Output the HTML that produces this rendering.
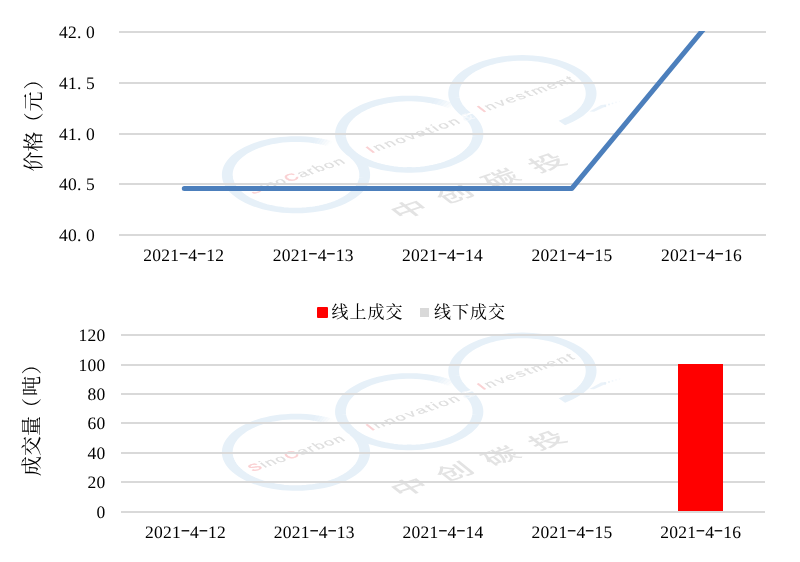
<!DOCTYPE html>
<html lang="zh-CN"><head><meta charset="utf-8"><title>价格与成交量</title>
<style>
html,body{margin:0;padding:0;background:#fff;}
body{width:800px;height:562px;overflow:hidden;}
svg{display:block;}
text{font-family:"Liberation Serif","Noto Serif CJK SC",serif;font-size:18px;fill:#000;}
.n{font-family:"Liberation Serif","Noto Serif CJK SC",serif;font-size:17.5px;text-rendering:geometricPrecision;}
.h{font-size:18px;}
.c{font-family:"Liberation Serif","Noto Serif CJK SC",serif;font-size:17px;}
.t{font-family:"Liberation Serif","Noto Serif CJK SC",serif;font-size:20px;text-spacing-trim:space-all;}
.wm{font-family:"Liberation Sans",sans-serif;font-size:18.5px;fill:#dedede;stroke:#dedede;stroke-width:0.25px;}
.wa{fill:#f6f9fc;stroke:#f6f9fc;}
.wr{fill:#fad0d2;stroke:#fad0d2;stroke-width:0.7px;}
.wmc{font-family:"Liberation Sans","Noto Sans CJK SC",sans-serif;font-size:33px;font-weight:500;fill:#e3e3e3;}
</style></head><body>
<svg width="800" height="562" viewBox="0 0 800 562">
<rect width="800" height="562" fill="#fff"/>
<g transform="translate(0 0.0)">
<g transform="translate(296.0 174.8) scale(1 0.52)" fill="none" stroke="#e6f0f8" stroke-width="10.8">
<path d="M18.95 -66.09 L14.26 -67.25 L9.51 -68.09 L4.70 -68.59 L-0.12 -68.75 L-4.95 -68.57 L-9.75 -68.06 L-14.50 -67.20 L-19.18 -66.02 L-23.77 -64.51 L-28.24 -62.68 L-32.57 -60.55 L-36.74 -58.11 L-40.73 -55.39 L-44.52 -52.39 L-48.08 -49.14 L-51.42 -45.64 L-54.49 -41.92 L-57.30 -37.99 L-59.83 -33.87 L-62.06 -29.59 L-63.98 -25.16 L-65.59 -20.61 L-66.87 -15.95 L-67.83 -11.22 L-68.45 -6.43 L-68.73 -1.61 L-68.67 3.22 L-68.28 8.03 L-67.55 12.80 L-66.48 17.51 L-65.09 22.14 L-63.37 26.65 L-61.35 31.04 L-59.02 35.27 L-56.39 39.32 L-53.50 43.18 L-50.33 46.83 L-46.92 50.25 L-43.28 53.42 L-39.42 56.33 L-35.37 58.95 L-31.14 61.29 L-26.76 63.33 L-22.25 65.05 L-17.63 66.45 L-12.92 67.52 L-8.15 68.26 L-3.34 68.67 L1.49 68.73 L6.31 68.46 L11.10 67.85 L15.84 66.90 L20.49 65.62 L25.05 64.02 L29.48 62.11 L33.77 59.89 L37.89 57.37 L41.82 54.57 L45.55 51.50 L49.05 48.17 L52.31 44.61 L55.31 40.83 L58.04 36.84 L60.49 32.68 L62.63 28.35 L64.47 23.88 L65.99 19.30 L67.18 14.62 L68.04 9.87 L68.56 5.07 L68.75 0.24 L68.60 -4.58 L68.11 -9.39 L67.28 -14.15 L66.12 -18.83 L64.63 -23.43 L62.83 -27.91 L60.72 -32.25 L58.30 -36.43"/>
<path d="M34.38 -59.54 L32.84 -60.40 L31.28 -61.22" stroke-opacity="0.08"/>
<path d="M31.92 -60.89 L30.35 -61.69 L28.76 -62.44" stroke-opacity="0.25"/>
<path d="M29.42 -62.14 L27.82 -62.87 L26.20 -63.56" stroke-opacity="0.42"/>
<path d="M26.86 -63.28 L25.23 -63.95 L23.59 -64.58" stroke-opacity="0.58"/>
<path d="M24.26 -64.33 L22.61 -64.93 L20.94 -65.48" stroke-opacity="0.75"/>
<path d="M21.62 -65.26 L19.95 -65.79 L18.26 -66.28" stroke-opacity="0.92"/>
</g>
<g transform="translate(409.2 134.2) scale(1 0.52)" fill="none" stroke="#e6f0f8" stroke-width="10.8">
<path d="M25.75 -63.74 L21.24 -65.39 L16.63 -66.71 L11.94 -67.71 L7.19 -68.37 L2.40 -68.71 L-2.40 -68.71 L-7.19 -68.37 L-11.94 -67.71 L-16.63 -66.71 L-21.24 -65.39 L-25.75 -63.74 L-30.14 -61.79 L-34.37 -59.54 L-38.44 -57.00 L-42.33 -54.18 L-46.00 -51.09 L-49.45 -47.76 L-52.67 -44.19 L-55.62 -40.41 L-58.30 -36.43 L-60.70 -32.28 L-62.81 -27.96 L-64.60 -23.51 L-66.09 -18.95 L-67.25 -14.29 L-68.08 -9.57 L-68.58 -4.80 L-68.75 -0.00 L-68.58 4.80 L-68.08 9.57 L-67.25 14.29 L-66.09 18.95 L-64.60 23.51 L-62.81 27.96 L-60.70 32.28 L-58.30 36.43 L-55.62 40.41 L-52.67 44.19 L-49.45 47.76 L-46.00 51.09 L-42.33 54.18 L-38.44 57.00 L-34.38 59.54 L-30.14 61.79 L-25.75 63.74 L-21.24 65.39 L-16.63 66.71 L-11.94 67.71 L-7.19 68.37 L-2.40 68.71 L2.40 68.71 L7.19 68.37 L11.94 67.71 L16.63 66.71 L21.24 65.39 L25.75 63.74 L30.14 61.79 L34.38 59.54 L38.44 57.00 L42.33 54.18 L46.00 51.09 L49.45 47.76 L52.67 44.19 L55.62 40.41 L58.30 36.43 L60.70 32.28 L62.81 27.96 L64.60 23.51 L66.09 18.95 L67.25 14.29 L68.08 9.57 L68.58 4.80 L68.75 0.00 L68.58 -4.80 L68.08 -9.57 L67.25 -14.29 L66.09 -18.95 L64.60 -23.51 L62.81 -27.96 L60.70 -32.28 L58.30 -36.43"/>
<path d="M44.19 -52.67 L42.52 -54.03 L40.80 -55.34" stroke-opacity="0.08"/>
<path d="M41.37 -54.91 L39.63 -56.18 L37.85 -57.40" stroke-opacity="0.25"/>
<path d="M38.44 -57.00 L36.64 -58.18 L34.79 -59.30" stroke-opacity="0.42"/>
<path d="M35.41 -58.93 L33.54 -60.01 L31.64 -61.04" stroke-opacity="0.58"/>
<path d="M32.28 -60.70 L30.35 -61.69 L28.40 -62.61" stroke-opacity="0.75"/>
<path d="M29.06 -62.31 L27.08 -63.19 L25.09 -64.01" stroke-opacity="0.92"/>
</g>
<g transform="translate(522.4 93.6) scale(1 0.52)" fill="none" stroke="#e6f0f8" stroke-width="10.8">
<path d="M39.43 56.32 L43.29 53.41 L46.94 50.23 L50.35 46.81 L53.52 43.15 L56.42 39.29 L59.04 35.22 L61.37 30.99 L63.40 26.60 L65.11 22.08 L66.50 17.45 L67.56 12.73 L68.29 7.95 L68.68 3.13 L68.73 -1.70 L68.44 -6.53 L67.81 -11.32 L66.85 -16.06 L65.55 -20.72 L63.94 -25.27 L62.00 -29.70 L59.76 -33.99 L57.23 -38.10 L54.41 -42.03 L51.32 -45.75 L47.98 -49.24 L44.40 -52.49 L40.60 -55.48 L36.60 -58.20 L32.42 -60.63 L28.08 -62.76 L23.60 -64.57 L19.00 -66.07 L14.31 -67.24 L9.55 -68.08 L4.74 -68.59 L-0.09 -68.75 L-4.92 -68.57 L-9.73 -68.06 L-14.49 -67.21 L-19.17 -66.02 L-23.77 -64.51 L-28.24 -62.68 L-32.58 -60.54 L-36.75 -58.10 L-40.74 -55.38 L-44.53 -52.38 L-48.10 -49.12 L-51.44 -45.62 L-54.52 -41.89 L-57.32 -37.95 L-59.85 -33.83 L-62.08 -29.54 L-64.00 -25.11 L-65.61 -20.55 L-66.89 -15.88 L-67.84 -11.14 L-68.46 -6.35 L-68.73 -1.52 L-68.67 3.31 L-68.27 8.13 L-67.53 12.91 L-66.45 17.62 L-65.05 22.25 L-63.33 26.76 L-61.29 31.15 L-58.95 35.38 L-56.32 39.43"/>
</g>
<path d="M589.5 111.6 L601 105 L606.5 104.6 L604 107.2 L594 111.8Z" fill="#e6f0f8" fill-opacity="0.85"/>
<g fill="#e6f0f8"><circle cx="605" cy="106" r="1.3"/><circle cx="609" cy="104.6" r="1" fill-opacity="0.8"/><circle cx="612.5" cy="103.4" r="0.9" fill-opacity="0.6"/><circle cx="616" cy="102.4" r="0.8" fill-opacity="0.45"/><circle cx="619.5" cy="101.6" r="0.7" fill-opacity="0.3"/></g>
<text class="wm" transform="translate(254.4 189.5) scale(1 0.52) rotate(-33)" x="-6.2" y="6.8" style="letter-spacing:1.50px;word-spacing:0.0px"><tspan class="wr">S</tspan>ino<tspan class="wr">C</tspan>arbon</text>
<text class="wm" transform="translate(370.0 149.5) scale(1 0.52) rotate(-33)" x="-2.6" y="6.8" style="letter-spacing:2.40px;word-spacing:-5.0px"><tspan class="wr">I</tspan>nnovation <tspan class="wa">&amp;</tspan></text>
<text class="wm" transform="translate(481.2 108.8) scale(1 0.52) rotate(-33)" x="-2.6" y="6.8" style="letter-spacing:2.26px;word-spacing:0.0px"><tspan class="wr">I</tspan>nvestment</text>
<text class="wmc" transform="translate(476.8 185.6) scale(1 0.52) rotate(-33) scale(1.12 1)" x="-72.8 -24.8 24.6 74.1" y="13.5" text-anchor="middle">中创碳投</text>
</g>
<line x1="119" x2="766" y1="32.00" y2="32.00" stroke="#d9d9d9" stroke-width="2"/>
<line x1="119" x2="766" y1="83.00" y2="83.00" stroke="#d9d9d9" stroke-width="2"/>
<line x1="119" x2="766" y1="134.00" y2="134.00" stroke="#d9d9d9" stroke-width="2"/>
<line x1="119" x2="766" y1="184.00" y2="184.00" stroke="#d9d9d9" stroke-width="2"/>
<line x1="119" x2="766" y1="235.00" y2="235.00" stroke="#d9d9d9" stroke-width="2"/>
<text class="n" x="59.00 68.00 77.00 86.00" y="38.30">42.0</text>
<text class="n" x="59.00 68.00 77.00 86.00" y="89.30">41.5</text>
<text class="n" x="59.00 68.00 77.00 86.00" y="140.30">41.0</text>
<text class="n" x="59.00 68.00 77.00 86.00" y="190.30">40.5</text>
<text class="n" x="59.00 68.00 77.00 86.00" y="241.30">40.0</text>
<text class="n" x="143.30 152.30 161.30 170.30 179.30 188.30 197.30 206.30 215.30" y="261.00">2021<tspan class="h" x="178.70" dy="-3.1" textLength="9.8" lengthAdjust="spacingAndGlyphs">-</tspan><tspan dy="3.1">4</tspan><tspan class="h" x="196.70" dy="-3.1" textLength="9.8" lengthAdjust="spacingAndGlyphs">-</tspan><tspan dy="3.1">12</tspan></text>
<text class="n" x="272.70 281.70 290.70 299.70 308.70 317.70 326.70 335.70 344.70" y="261.00">2021<tspan class="h" x="308.10" dy="-3.1" textLength="9.8" lengthAdjust="spacingAndGlyphs">-</tspan><tspan dy="3.1">4</tspan><tspan class="h" x="326.10" dy="-3.1" textLength="9.8" lengthAdjust="spacingAndGlyphs">-</tspan><tspan dy="3.1">13</tspan></text>
<text class="n" x="402.10 411.10 420.10 429.10 438.10 447.10 456.10 465.10 474.10" y="261.00">2021<tspan class="h" x="437.50" dy="-3.1" textLength="9.8" lengthAdjust="spacingAndGlyphs">-</tspan><tspan dy="3.1">4</tspan><tspan class="h" x="455.50" dy="-3.1" textLength="9.8" lengthAdjust="spacingAndGlyphs">-</tspan><tspan dy="3.1">14</tspan></text>
<text class="n" x="531.50 540.50 549.50 558.50 567.50 576.50 585.50 594.50 603.50" y="261.00">2021<tspan class="h" x="566.90" dy="-3.1" textLength="9.8" lengthAdjust="spacingAndGlyphs">-</tspan><tspan dy="3.1">4</tspan><tspan class="h" x="584.90" dy="-3.1" textLength="9.8" lengthAdjust="spacingAndGlyphs">-</tspan><tspan dy="3.1">15</tspan></text>
<text class="n" x="660.90 669.90 678.90 687.90 696.90 705.90 714.90 723.90 732.90" y="261.00">2021<tspan class="h" x="696.30" dy="-3.1" textLength="9.8" lengthAdjust="spacingAndGlyphs">-</tspan><tspan dy="3.1">4</tspan><tspan class="h" x="714.30" dy="-3.1" textLength="9.8" lengthAdjust="spacingAndGlyphs">-</tspan><tspan dy="3.1">16</tspan></text>
<clipPath id="cp"><rect x="119" y="31" width="647" height="205"/></clipPath>
<polyline clip-path="url(#cp)" fill="none" stroke="#4c7fbc" stroke-width="5" stroke-linecap="round" stroke-linejoin="round" points="184.3,188.4 313.1,188.4 442.5,188.4 571.9,188.4 701.3,32 709.6,22"/>
<text class="t" transform="translate(41 171.5) rotate(-90)" x="0 20 39 60 82" y="0">价格（元）</text>
<g transform="translate(0 277.5)">
<g transform="translate(296.0 174.8) scale(1 0.52)" fill="none" stroke="#e6f0f8" stroke-width="10.8">
<path d="M18.95 -66.09 L14.26 -67.25 L9.51 -68.09 L4.70 -68.59 L-0.12 -68.75 L-4.95 -68.57 L-9.75 -68.06 L-14.50 -67.20 L-19.18 -66.02 L-23.77 -64.51 L-28.24 -62.68 L-32.57 -60.55 L-36.74 -58.11 L-40.73 -55.39 L-44.52 -52.39 L-48.08 -49.14 L-51.42 -45.64 L-54.49 -41.92 L-57.30 -37.99 L-59.83 -33.87 L-62.06 -29.59 L-63.98 -25.16 L-65.59 -20.61 L-66.87 -15.95 L-67.83 -11.22 L-68.45 -6.43 L-68.73 -1.61 L-68.67 3.22 L-68.28 8.03 L-67.55 12.80 L-66.48 17.51 L-65.09 22.14 L-63.37 26.65 L-61.35 31.04 L-59.02 35.27 L-56.39 39.32 L-53.50 43.18 L-50.33 46.83 L-46.92 50.25 L-43.28 53.42 L-39.42 56.33 L-35.37 58.95 L-31.14 61.29 L-26.76 63.33 L-22.25 65.05 L-17.63 66.45 L-12.92 67.52 L-8.15 68.26 L-3.34 68.67 L1.49 68.73 L6.31 68.46 L11.10 67.85 L15.84 66.90 L20.49 65.62 L25.05 64.02 L29.48 62.11 L33.77 59.89 L37.89 57.37 L41.82 54.57 L45.55 51.50 L49.05 48.17 L52.31 44.61 L55.31 40.83 L58.04 36.84 L60.49 32.68 L62.63 28.35 L64.47 23.88 L65.99 19.30 L67.18 14.62 L68.04 9.87 L68.56 5.07 L68.75 0.24 L68.60 -4.58 L68.11 -9.39 L67.28 -14.15 L66.12 -18.83 L64.63 -23.43 L62.83 -27.91 L60.72 -32.25 L58.30 -36.43"/>
<path d="M34.38 -59.54 L32.84 -60.40 L31.28 -61.22" stroke-opacity="0.08"/>
<path d="M31.92 -60.89 L30.35 -61.69 L28.76 -62.44" stroke-opacity="0.25"/>
<path d="M29.42 -62.14 L27.82 -62.87 L26.20 -63.56" stroke-opacity="0.42"/>
<path d="M26.86 -63.28 L25.23 -63.95 L23.59 -64.58" stroke-opacity="0.58"/>
<path d="M24.26 -64.33 L22.61 -64.93 L20.94 -65.48" stroke-opacity="0.75"/>
<path d="M21.62 -65.26 L19.95 -65.79 L18.26 -66.28" stroke-opacity="0.92"/>
</g>
<g transform="translate(409.2 134.2) scale(1 0.52)" fill="none" stroke="#e6f0f8" stroke-width="10.8">
<path d="M25.75 -63.74 L21.24 -65.39 L16.63 -66.71 L11.94 -67.71 L7.19 -68.37 L2.40 -68.71 L-2.40 -68.71 L-7.19 -68.37 L-11.94 -67.71 L-16.63 -66.71 L-21.24 -65.39 L-25.75 -63.74 L-30.14 -61.79 L-34.37 -59.54 L-38.44 -57.00 L-42.33 -54.18 L-46.00 -51.09 L-49.45 -47.76 L-52.67 -44.19 L-55.62 -40.41 L-58.30 -36.43 L-60.70 -32.28 L-62.81 -27.96 L-64.60 -23.51 L-66.09 -18.95 L-67.25 -14.29 L-68.08 -9.57 L-68.58 -4.80 L-68.75 -0.00 L-68.58 4.80 L-68.08 9.57 L-67.25 14.29 L-66.09 18.95 L-64.60 23.51 L-62.81 27.96 L-60.70 32.28 L-58.30 36.43 L-55.62 40.41 L-52.67 44.19 L-49.45 47.76 L-46.00 51.09 L-42.33 54.18 L-38.44 57.00 L-34.38 59.54 L-30.14 61.79 L-25.75 63.74 L-21.24 65.39 L-16.63 66.71 L-11.94 67.71 L-7.19 68.37 L-2.40 68.71 L2.40 68.71 L7.19 68.37 L11.94 67.71 L16.63 66.71 L21.24 65.39 L25.75 63.74 L30.14 61.79 L34.38 59.54 L38.44 57.00 L42.33 54.18 L46.00 51.09 L49.45 47.76 L52.67 44.19 L55.62 40.41 L58.30 36.43 L60.70 32.28 L62.81 27.96 L64.60 23.51 L66.09 18.95 L67.25 14.29 L68.08 9.57 L68.58 4.80 L68.75 0.00 L68.58 -4.80 L68.08 -9.57 L67.25 -14.29 L66.09 -18.95 L64.60 -23.51 L62.81 -27.96 L60.70 -32.28 L58.30 -36.43"/>
<path d="M44.19 -52.67 L42.52 -54.03 L40.80 -55.34" stroke-opacity="0.08"/>
<path d="M41.37 -54.91 L39.63 -56.18 L37.85 -57.40" stroke-opacity="0.25"/>
<path d="M38.44 -57.00 L36.64 -58.18 L34.79 -59.30" stroke-opacity="0.42"/>
<path d="M35.41 -58.93 L33.54 -60.01 L31.64 -61.04" stroke-opacity="0.58"/>
<path d="M32.28 -60.70 L30.35 -61.69 L28.40 -62.61" stroke-opacity="0.75"/>
<path d="M29.06 -62.31 L27.08 -63.19 L25.09 -64.01" stroke-opacity="0.92"/>
</g>
<g transform="translate(522.4 93.6) scale(1 0.52)" fill="none" stroke="#e6f0f8" stroke-width="10.8">
<path d="M39.43 56.32 L43.29 53.41 L46.94 50.23 L50.35 46.81 L53.52 43.15 L56.42 39.29 L59.04 35.22 L61.37 30.99 L63.40 26.60 L65.11 22.08 L66.50 17.45 L67.56 12.73 L68.29 7.95 L68.68 3.13 L68.73 -1.70 L68.44 -6.53 L67.81 -11.32 L66.85 -16.06 L65.55 -20.72 L63.94 -25.27 L62.00 -29.70 L59.76 -33.99 L57.23 -38.10 L54.41 -42.03 L51.32 -45.75 L47.98 -49.24 L44.40 -52.49 L40.60 -55.48 L36.60 -58.20 L32.42 -60.63 L28.08 -62.76 L23.60 -64.57 L19.00 -66.07 L14.31 -67.24 L9.55 -68.08 L4.74 -68.59 L-0.09 -68.75 L-4.92 -68.57 L-9.73 -68.06 L-14.49 -67.21 L-19.17 -66.02 L-23.77 -64.51 L-28.24 -62.68 L-32.58 -60.54 L-36.75 -58.10 L-40.74 -55.38 L-44.53 -52.38 L-48.10 -49.12 L-51.44 -45.62 L-54.52 -41.89 L-57.32 -37.95 L-59.85 -33.83 L-62.08 -29.54 L-64.00 -25.11 L-65.61 -20.55 L-66.89 -15.88 L-67.84 -11.14 L-68.46 -6.35 L-68.73 -1.52 L-68.67 3.31 L-68.27 8.13 L-67.53 12.91 L-66.45 17.62 L-65.05 22.25 L-63.33 26.76 L-61.29 31.15 L-58.95 35.38 L-56.32 39.43"/>
</g>
<path d="M589.5 111.6 L601 105 L606.5 104.6 L604 107.2 L594 111.8Z" fill="#e6f0f8" fill-opacity="0.85"/>
<g fill="#e6f0f8"><circle cx="605" cy="106" r="1.3"/><circle cx="609" cy="104.6" r="1" fill-opacity="0.8"/><circle cx="612.5" cy="103.4" r="0.9" fill-opacity="0.6"/><circle cx="616" cy="102.4" r="0.8" fill-opacity="0.45"/><circle cx="619.5" cy="101.6" r="0.7" fill-opacity="0.3"/></g>
<text class="wm" transform="translate(254.4 189.5) scale(1 0.52) rotate(-33)" x="-6.2" y="6.8" style="letter-spacing:1.50px;word-spacing:0.0px"><tspan class="wr">S</tspan>ino<tspan class="wr">C</tspan>arbon</text>
<text class="wm" transform="translate(370.0 149.5) scale(1 0.52) rotate(-33)" x="-2.6" y="6.8" style="letter-spacing:2.40px;word-spacing:-5.0px"><tspan class="wr">I</tspan>nnovation <tspan class="wa">&amp;</tspan></text>
<text class="wm" transform="translate(481.2 108.8) scale(1 0.52) rotate(-33)" x="-2.6" y="6.8" style="letter-spacing:2.26px;word-spacing:0.0px"><tspan class="wr">I</tspan>nvestment</text>
<text class="wmc" transform="translate(476.8 185.6) scale(1 0.52) rotate(-33) scale(1.12 1)" x="-72.8 -24.8 24.6 74.1" y="13.5" text-anchor="middle">中创碳投</text>
</g>
<line x1="121" x2="765" y1="335.00" y2="335.00" stroke="#d9d9d9" stroke-width="2"/>
<line x1="121" x2="765" y1="365.00" y2="365.00" stroke="#d9d9d9" stroke-width="2"/>
<line x1="121" x2="765" y1="394.00" y2="394.00" stroke="#d9d9d9" stroke-width="2"/>
<line x1="121" x2="765" y1="423.00" y2="423.00" stroke="#d9d9d9" stroke-width="2"/>
<line x1="121" x2="765" y1="453.00" y2="453.00" stroke="#d9d9d9" stroke-width="2"/>
<line x1="121" x2="765" y1="482.00" y2="482.00" stroke="#d9d9d9" stroke-width="2"/>
<line x1="121" x2="765" y1="512.00" y2="512.00" stroke="#d9d9d9" stroke-width="2"/>
<text class="n" x="78.50 87.50 96.50" y="341.30">120</text>
<text class="n" x="78.50 87.50 96.50" y="371.30">100</text>
<text class="n" x="87.50 96.50" y="400.30">80</text>
<text class="n" x="87.50 96.50" y="429.30">60</text>
<text class="n" x="87.50 96.50" y="459.30">40</text>
<text class="n" x="87.50 96.50" y="488.30">20</text>
<text class="n" x="96.50" y="518.30">0</text>
<text class="n" x="145.00 154.00 163.00 172.00 181.00 190.00 199.00 208.00 217.00" y="538.00">2021<tspan class="h" x="180.40" dy="-3.1" textLength="9.8" lengthAdjust="spacingAndGlyphs">-</tspan><tspan dy="3.1">4</tspan><tspan class="h" x="198.40" dy="-3.1" textLength="9.8" lengthAdjust="spacingAndGlyphs">-</tspan><tspan dy="3.1">12</tspan></text>
<text class="n" x="273.80 282.80 291.80 300.80 309.80 318.80 327.80 336.80 345.80" y="538.00">2021<tspan class="h" x="309.20" dy="-3.1" textLength="9.8" lengthAdjust="spacingAndGlyphs">-</tspan><tspan dy="3.1">4</tspan><tspan class="h" x="327.20" dy="-3.1" textLength="9.8" lengthAdjust="spacingAndGlyphs">-</tspan><tspan dy="3.1">13</tspan></text>
<text class="n" x="402.60 411.60 420.60 429.60 438.60 447.60 456.60 465.60 474.60" y="538.00">2021<tspan class="h" x="438.00" dy="-3.1" textLength="9.8" lengthAdjust="spacingAndGlyphs">-</tspan><tspan dy="3.1">4</tspan><tspan class="h" x="456.00" dy="-3.1" textLength="9.8" lengthAdjust="spacingAndGlyphs">-</tspan><tspan dy="3.1">14</tspan></text>
<text class="n" x="531.40 540.40 549.40 558.40 567.40 576.40 585.40 594.40 603.40" y="538.00">2021<tspan class="h" x="566.80" dy="-3.1" textLength="9.8" lengthAdjust="spacingAndGlyphs">-</tspan><tspan dy="3.1">4</tspan><tspan class="h" x="584.80" dy="-3.1" textLength="9.8" lengthAdjust="spacingAndGlyphs">-</tspan><tspan dy="3.1">15</tspan></text>
<text class="n" x="660.20 669.20 678.20 687.20 696.20 705.20 714.20 723.20 732.20" y="538.00">2021<tspan class="h" x="695.60" dy="-3.1" textLength="9.8" lengthAdjust="spacingAndGlyphs">-</tspan><tspan dy="3.1">4</tspan><tspan class="h" x="713.60" dy="-3.1" textLength="9.8" lengthAdjust="spacingAndGlyphs">-</tspan><tspan dy="3.1">16</tspan></text>
<rect x="678" y="364" width="45" height="147" fill="#ff0000"/>
<rect x="317" y="307" width="11" height="11" rx="1" fill="#ff0000"/>
<text class="c" x="331.5 349.5 367.5 385.5" y="317.5">线上成交</text>
<rect x="420" y="308" width="9" height="9" fill="#d9d9d9"/>
<text class="c" x="434 452 470 488" y="317.5">线下成交</text>
<text class="t" transform="translate(39 476) rotate(-90)" x="0 20 40 58 80 101.5" y="0">成交量（吨）</text>
</svg></body></html>
